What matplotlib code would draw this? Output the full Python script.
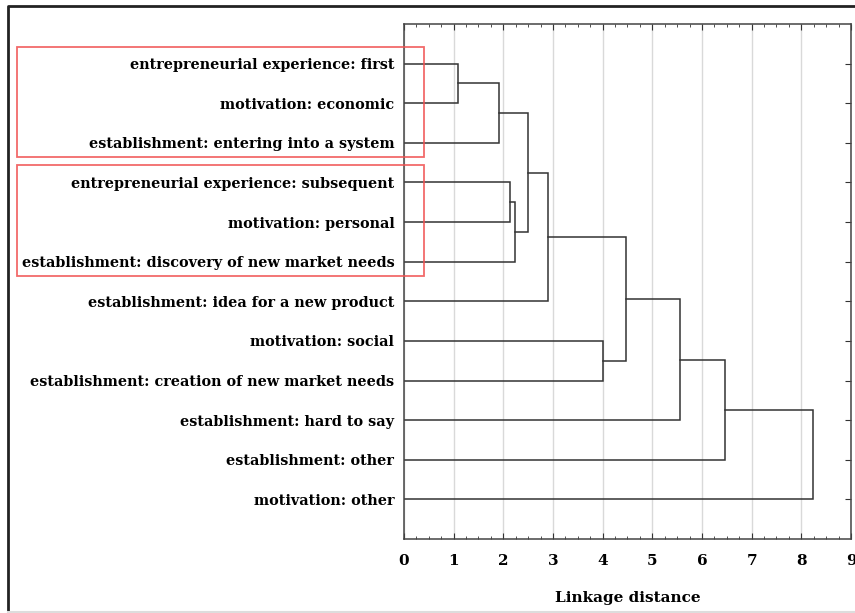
import matplotlib.pyplot as plt
from matplotlib.lines import Line2D
from matplotlib.patches import Rectangle
from matplotlib.ticker import MultipleLocator

# leaves, top to bottom
labels = [
    "entrepreneurial experience: first",
    "motivation: economic",
    "establishment: entering into a system",
    "entrepreneurial experience: subsequent",
    "motivation: personal",
    "establishment: discovery of new market needs",
    "establishment: idea for a new product",
    "motivation: social",
    "establishment: creation of new market needs",
    "establishment: hard to say",
    "establishment: other",
    "motivation: other",
]

# merges: node a, node b, linkage distance (new node ids start at len(labels))
merge_a = [0, 12, 3, 14, 13, 16, 7, 17, 19, 20, 21]
merge_b = [1, 2, 4, 5, 15, 6, 8, 18, 9, 10, 11]
heights = [1.08, 1.91, 2.13, 2.24, 2.49, 2.90, 4.00, 4.48, 5.55, 6.46, 8.23]

# red boxes around leaf groups (first leaf, last leaf)
groups = [(0, 2), (3, 5)]

plt.rcParams['font.family'] = ['DejaVu Serif']
plt.rcParams['font.weight'] = 'bold'

fig = plt.figure(figsize=(8.55, 6.13), dpi=100)
ax = fig.add_axes([0.4725, 0.1207, 0.5228, 0.8401])

n = len(labels)
pos = {i: i + 1 for i in range(n)}
hgt = {i: 0.0 for i in range(n)}
for k, (a, b, h) in enumerate(zip(merge_a, merge_b, heights)):
    node = n + k
    ax.plot([hgt[a], h, h, hgt[b]], [pos[a], pos[a], pos[b], pos[b]],
            color='#333333', lw=1.1, solid_joinstyle='miter')
    pos[node] = (pos[a] + pos[b]) / 2
    hgt[node] = h

ax.set_xlim(0, 9)
ax.set_ylim(n + 1, 0)
ax.set_yticks(range(1, n + 1))
ax.set_yticklabels(labels, fontsize=10.4)
ax.xaxis.set_major_locator(MultipleLocator(1))
ax.xaxis.set_minor_locator(MultipleLocator(0.25))
ax.tick_params(axis='x', which='major', direction='in', length=4, top=True,
               labelsize=11, pad=11, color='#333333')
ax.tick_params(axis='x', which='minor', direction='in', length=2, top=True,
               color='#333333')
ax.tick_params(axis='y', direction='in', length=4, left=False, right=True,
               pad=7, color='#333333')
ax.grid(axis='x', color='#d9d9d9', lw=1)
ax.set_axisbelow(True)
for s in ax.spines.values():
    s.set_color('#444444')
    s.set_linewidth(1.1)
ax.set_xlabel("Linkage distance", fontsize=11, fontweight='bold', labelpad=16)

for g0, g1 in groups:
    ax.add_patch(Rectangle((-7.8, g0 + 1 - 0.43), 8.2, g1 - g0 + 0.78,
                           fill=False, edgecolor='#f05050', lw=1.3,
                           alpha=0.85, clip_on=False, zorder=5))

# outer frame: dark left and top, faint bottom
x0, y0, y1 = 8 / 855, 1.5 / 613, 1 - 6 / 613
fig.add_artist(Line2D([x0, x0, 1], [y0, y1, y1], transform=fig.transFigure,
                      color='#222222', lw=2))
fig.add_artist(Line2D([x0, 1], [y0, y0], transform=fig.transFigure,
                      color='#dddddd', lw=1.5))

fig.savefig("out.png", dpi=100)
